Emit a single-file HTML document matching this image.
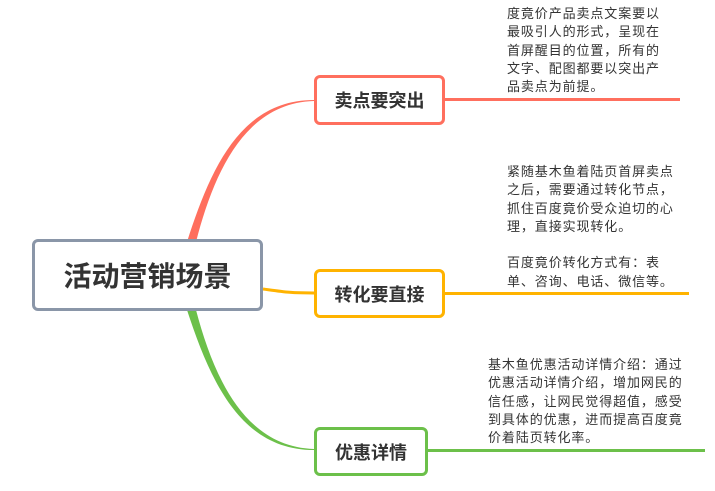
<!DOCTYPE html>
<html><head><meta charset="utf-8"><style>
body{margin:0;width:715px;height:491px;background:#fff;position:relative;overflow:hidden;font-family:"Liberation Sans","Noto Sans CJK SC",sans-serif;}
.b{position:absolute;box-sizing:border-box;background:#fff;border-radius:6px;display:flex;align-items:center;justify-content:center;font-weight:bold;color:#333;}
.t{position:absolute;font-size:13px;letter-spacing:0.9px;line-height:18.3px;color:#333;white-space:pre;}
</style></head><body>
<svg width="715" height="491" style="position:absolute;left:0;top:0">
<path d="M187,242 C210,170 240,100 314,100 L314,101 C245,103 214,172 196,242 Z" fill="#ff6f5e"/>
<path d="M187,310 C210,380 240,450 314,450 L314,449 C245,447 214,378 196,310 Z" fill="#6cc04a"/>
<path d="M263,289 C285,292 290,293 314,293" stroke="#ffb300" stroke-width="3" fill="none"/>
<line x1="445" y1="99.5" x2="680" y2="99.5" stroke="#ff6f5e" stroke-width="3"/>
<line x1="445" y1="293.5" x2="689" y2="293.5" stroke="#ffb300" stroke-width="3"/>
<line x1="428" y1="450.5" x2="705" y2="450.5" stroke="#6cc04a" stroke-width="3"/>
</svg>
<div class="b" style="left:32px;top:239px;width:231px;height:72px;border:3px solid #8a96a8;font-size:28px;">活动营销场景</div>
<div class="b" style="left:314px;top:75px;width:131px;height:50px;border:3px solid #ff6f5e;font-size:18px;">卖点要突出</div>
<div class="b" style="left:314px;top:269px;width:131px;height:49px;border:3px solid #ffb300;font-size:18px;">转化要直接</div>
<div class="b" style="left:314px;top:427px;width:114px;height:49px;border:3px solid #6cc04a;font-size:18px;">优惠详情</div>
<div class="t" style="left:507px;top:5px;">度竟价产品卖点文案要以
最吸引人的形式，呈现在
首屏醒目的位置，所有的
文字、配图都要以突出产
品卖点为前提。</div>
<div class="t" style="left:507px;top:163px;">紧随基木鱼着陆页首屏卖点
之后，需要通过转化节点，
抓住百度竟价受众迫切的心
理，直接实现转化。

百度竟价转化方式有：表
单、咨询、电话、微信等。</div>
<div class="t" style="left:488px;top:356px;">基木鱼优惠活动详情介绍：通过
优惠活动详情介绍，增加网民的
信任感，让网民觉得超值，感受
到具体的优惠，进而提高百度竟
价着陆页转化率。</div>
</body></html>
